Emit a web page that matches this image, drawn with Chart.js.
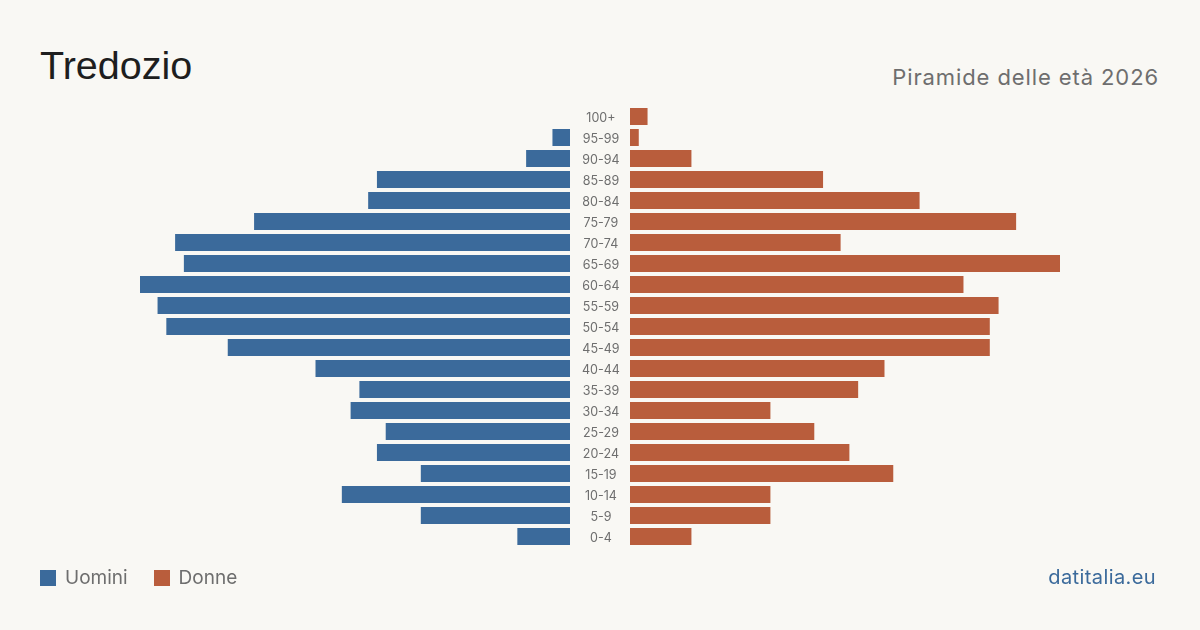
<!DOCTYPE html>
<html>
<head>
<meta charset="utf-8">
<script src="https://cdn.jsdelivr.net/npm/chart.js@4/dist/chart.umd.min.js"></script>
<style>
  html, body { margin: 0; padding: 0; }
  body { width: 1200px; height: 630px; background: #f9f8f4; position: relative; overflow: hidden; font-family: Inter, "Noto Sans", sans-serif; }
  #title { position: absolute; left: 40px; top: 46px; font-family: "Liberation Sans", Arial, sans-serif; font-size: 39.5px; color: #1e1e1e; line-height: 1; }
  #subtitle { position: absolute; right: 41px; top: 66px; font-size: 22px; color: #6e6e6e; line-height: 1; letter-spacing: 0.9px; }
  .box { position: absolute; top: 0; height: 630px; }
  #left { left: 0; width: 630px; }
  #right { left: 630px; width: 570px; }
  #legend { position: absolute; left: 40px; top: 566px; font-size: 19px; color: #6e6e6e; display: flex; align-items: center; }
  #legend span.sw { display: inline-block; width: 16px; height: 16px; margin-right: 9px; }
  #legend .item { display: flex; align-items: center; margin-right: 26px; }
  #src { position: absolute; right: 44px; top: 565px; font-size: 20px; color: #3b6a9b; letter-spacing: 0.4px; }
</style>
</head>
<body>
<div id="title">Tredozio</div>
<div id="subtitle">Piramide delle età 2026</div>
<div class="box" id="left"><canvas id="menChart"></canvas></div>
<div class="box" id="right"><canvas id="womenChart"></canvas></div>
<div id="legend">
  <div class="item"><span class="sw" style="background:#3b6a9b"></span>Uomini</div>
  <div class="item"><span class="sw" style="background:#b95d3c"></span>Donne</div>
</div>
<div id="src">datitalia.eu</div>
<script>
// age classes, top to bottom
const ageGroups = ['100+', '95-99', '90-94', '85-89', '80-84', '75-79', '70-74', '65-69', '60-64', '55-59',
  '50-54', '45-49', '40-44', '35-39', '30-34', '25-29', '20-24', '15-19', '10-14', '5-9', '0-4'];
const men   = [0, 2, 5, 22, 23, 36, 45, 44, 49, 47, 46, 39, 29, 24, 25, 21, 22, 17, 26, 17, 6];
const women = [2, 1, 7, 22, 33, 44, 24, 49, 38, 42, 41, 41, 29, 26, 16, 21, 25, 30, 16, 16, 7];

const maxVal = Math.max(...men, ...women);
const blue = '#3b6a9b';
const red = '#b95d3c';

const commonOpts = {
  indexAxis: 'y',
  responsive: true,
  maintainAspectRatio: false,
  animation: false,
  plugins: { legend: { display: false }, tooltip: { enabled: false } },
};

new Chart(document.getElementById('menChart'), {
  type: 'bar',
  data: {
    labels: ageGroups,
    datasets: [{ data: men, backgroundColor: blue, barPercentage: 17 / 21, categoryPercentage: 1 }]
  },
  options: {
    ...commonOpts,
    layout: { padding: { left: 140, top: 106, bottom: 83, right: 0 } },
    scales: {
      x: { display: false, reverse: true, min: 0, max: maxVal },
      y: {
        position: 'right',
        grid: { display: false },
        border: { display: false },
        ticks: { color: '#6e6e6e', font: { family: 'Inter', size: 12.5 }, padding: 4, crossAlign: 'center', labelOffset: 1.5 },
        afterFit: (axis) => { axis.width = 60; }
      }
    }
  }
});

new Chart(document.getElementById('womenChart'), {
  type: 'bar',
  data: {
    labels: ageGroups,
    datasets: [{ data: women, backgroundColor: red, barPercentage: 17 / 21, categoryPercentage: 1 }]
  },
  options: {
    ...commonOpts,
    layout: { padding: { left: 0, top: 106, bottom: 83, right: 140 } },
    scales: {
      x: { display: false, min: 0, max: maxVal },
      y: { display: false }
    }
  }
});
</script>
</body>
</html>
